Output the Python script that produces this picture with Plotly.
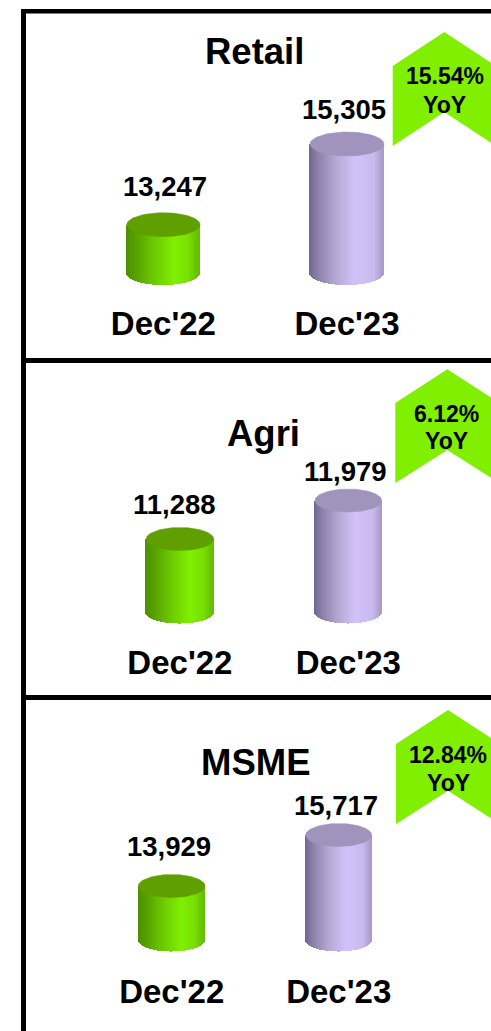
import numpy as np
import plotly.graph_objects as go

W, H = 491, 1031
FONT = "Liberation Sans"

# ---- data ----
categories = ["Dec'22", "Dec'23"]
panel_names = ["Retail", "Agri", "MSME"]
retail_values = [13247, 15305]
agri_values = [11288, 11979]
msme_values = [13929, 15717]
yoy_labels = ["15.54%", "6.12%", "12.84%"]

# ---- layout calibration (pixels of the reference) ----
panels = [
    dict(values=retail_values, dom=(14, 288), cx=(163.4, 347.0), half=(36.7, 37.0),
         top=(224.7, 144.0), base_px=273, ry=12,
         lab=((1.6, -37.7), (-3.5, -34)), title=(254.5, 52),
         chev=(392.7, 444.3, 32, 66, 146, 112), yoy=(444.5, 76, 104.5)),
    dict(values=agri_values, dom=(364, 627), cx=(179.9, 348.3), half=(33.8, 33.4),
         top=(539.0, 500.5), base_px=612, ry=11.5,
         lab=((-5.6, -35), (-3, -29.5)), title=(263, 433),
         chev=(395.3, 447.3, 369.3, 403, 483, 450), yoy=(446, 414, 441.5)),
    dict(values=msme_values, dom=(701, 956), cx=(171.7, 338.7), half=(33.4, 33.0),
         top=(886.0, 835.0), base_px=940, ry=11.5,
         lab=((-2.7, -40), (-2.7, -30)), title=(255.5, 762),
         chev=(396, 448, 710, 744, 824, 790.7), yoy=(448, 755, 783)),
]

GREEN_STOPS = [(0, "#4e8f00"), (.1, "#549c00"), (.35, "#69c400"), (.66, "#80f000"),
               (.85, "#78e000"), (1, "#64bc00")]
PURPLE_STOPS = [(0, "#6f6690"), (.12, "#8c80aa"), (.35, "#b3a6d2"), (.62, "#d2c2fa"),
                (.88, "#c8b9ee"), (1, "#a899c8")]
GREEN_TOP, PURPLE_TOP = "#609f00", "#a093bc"


def hex2rgb(h):
    return np.array([int(h[i:i + 2], 16) for i in (1, 3, 5)], float)


def shade(stops, t):
    ts = [s[0] for s in stops]
    cols = np.array([hex2rgb(s[1]) for s in stops])
    rgb = [np.interp(t, ts, cols[:, i]) for i in range(3)]
    return "rgb(%d,%d,%d)" % tuple(int(round(v)) for v in rgb)


def px(x):
    return x / W


def py(y):
    return 1 - y / H


fig = go.Figure()
layout = dict(
    width=W, height=H, margin=dict(l=0, r=0, t=0, b=0), autosize=False,
    paper_bgcolor="white", plot_bgcolor="rgba(0,0,0,0)", showlegend=False,
    font=dict(family=FONT, color="black"), bargap=0,
)
shapes, annotations = [], []

for n, p in enumerate(panels):
    suffix = "" if n == 0 else str(n + 1)
    xname, yname = "x" + suffix, "y" + suffix
    vals = p["values"]

    # x scale: category 0/1 land on the reference's bar centres
    ppu = p["cx"][1] - p["cx"][0]
    x0 = -p["cx"][0] / ppu
    layout["xaxis" + suffix] = dict(
        domain=[0, 1], range=[x0, x0 + W / ppu], anchor=yname, showgrid=False, zeroline=False,
        showline=False, tickmode="array", tickvals=[0, 1], ticktext=categories, ticks="outside",
        ticklen=6, tickcolor="rgba(0,0,0,0)",
        tickfont=dict(family=FONT, size=33, color="black", weight="bold"),
    )
    # y scale: the two values land on the reference's cylinder tops
    vpp = (vals[1] - vals[0]) / (p["top"][0] - p["top"][1])
    val_at = lambda y: vals[0] + (p["top"][0] - y) * vpp
    layout["yaxis" + suffix] = dict(
        domain=[py(p["dom"][1]), py(p["dom"][0])],
        range=[val_at(p["dom"][1]), val_at(p["dom"][0])],
        anchor=xname, visible=False,
    )

    base_val = val_at(p["base_px"])
    ry_val = p["ry"] * vpp
    for i, v in enumerate(vals):
        half_u = p["half"][i] / ppu
        stops = GREEN_STOPS if i == 0 else PURPLE_STOPS
        n_strip = int(round(2 * p["half"][i]))
        t = (np.arange(n_strip) + 0.5) / n_strip
        u = 2 * t - 1
        bases = base_val - ry_val * np.sqrt(1 - u ** 2)
        fig.add_trace(go.Bar(
            x=i + u * half_u, y=v - bases, base=bases, width=1.5 / ppu,
            marker=dict(color=[shade(stops, s) for s in t], line=dict(width=0)),
            xaxis=xname, yaxis=yname, hoverinfo="skip", cliponaxis=False,
        ))
        th = np.linspace(0, 2 * np.pi, 91)
        fig.add_trace(go.Scatter(
            x=i + half_u * np.cos(th), y=v + ry_val * np.sin(th), mode="lines",
            line=dict(width=0.5, color=GREEN_TOP if i == 0 else PURPLE_TOP), fill="toself",
            fillcolor=GREEN_TOP if i == 0 else PURPLE_TOP,
            xaxis=xname, yaxis=yname, hoverinfo="skip",
        ))
        dx, dy = p["lab"][i]
        annotations.append(dict(
            x=i, y=v, xref=xname, yref=yname, xshift=dx, yshift=-dy, showarrow=False,
            text=f"<b>{v:,}</b>", xanchor="center", yanchor="middle",
            font=dict(family=FONT, size=27.5, color="black"),
        ))

    # panel title
    annotations.append(dict(
        x=px(p["title"][0]), y=py(p["title"][1]), xref="paper", yref="paper", showarrow=False,
        text=f"<b>{panel_names[n]}</b>", xanchor="center", yanchor="middle",
        font=dict(family=FONT, size=36.5, color="black"),
    ))

    # YoY chevron
    xl, xa, ya, ys, yb, yn = p["chev"]
    xr = 2 * xa - xl
    pts = [(xl, ys), (xa, ya), (xr, ys), (xr, yb), (xa, yn), (xl, yb)]
    path = "M " + " L ".join(f"{px(a):.5f} {py(b):.5f}" for a, b in pts) + " Z"
    shapes.append(dict(type="path", path=path, xref="paper", yref="paper",
                       fillcolor="#80f000", line=dict(width=0), layer="below"))
    for txt, yy in ((yoy_labels[n], p["yoy"][1]), ("YoY", p["yoy"][2])):
        annotations.append(dict(
            x=px(p["yoy"][0]), y=py(yy), xref="paper", yref="paper", showarrow=False,
            text=f"<b>{txt}</b>", xanchor="center", yanchor="middle",
            font=dict(family=FONT, size=23, color="black"),
        ))

# frame
for x0_, y0_, x1_, y1_ in [(21, 9, 26, H), (21, 9, W, 13.5), (21, 358, W, 363), (21, 695, W, 700)]:
    shapes.append(dict(type="rect", x0=px(x0_), x1=px(x1_), y0=py(y0_), y1=py(y1_),
                       xref="paper", yref="paper", fillcolor="black", line=dict(width=0)))

layout["shapes"] = shapes
layout["annotations"] = annotations
fig.update_layout(**layout)
fig.write_html(
    "out.html", config=dict(displayModeBar=False),
    post_script="document.documentElement.style.margin='0';document.body.style.margin='0';"
                "document.body.style.overflow='hidden';",
)
